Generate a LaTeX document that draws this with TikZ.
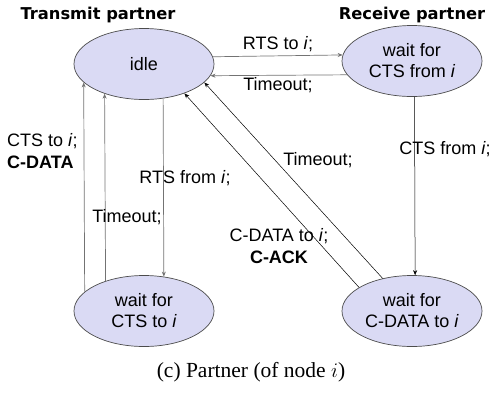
\documentclass[tikz,border=0pt]{standalone}
\usepackage{fontspec}
\setmainfont{Liberation Serif}
\setsansfont{Liberation Sans}
\newfontfamily\headfont{DejaVu Sans}
\usetikzlibrary{shapes.geometric,arrows.meta}
\begin{document}
\begin{tikzpicture}[x=1pt,y=-1pt,
  state/.style={ellipse,draw=black!70,fill={rgb,255:red,218;green,218;blue,244},line width=0.7pt,
    minimum width=140pt,minimum height=71pt,inner sep=0pt,align=center,
    font=\sffamily\fontsize{18}{21}\selectfont},
  lbl/.style={inner sep=0pt,font=\sffamily\fontsize{18}{22}\selectfont},
  head/.style={inner sep=0pt,font=\headfont\bfseries\fontsize{16.3}{18}\selectfont},
  conn/.style={draw=black!55,line width=0.7pt,-{Stealth[length=5pt,width=4pt]}},
  diag/.style={draw=black,line width=0.5pt,-{Stealth[length=5pt,width=4pt]}}]
\useasboundingbox (0,0) rectangle (496,392);
\node[state] (idle) at (144,64) {idle};
\node[state] (ctsfrom) at (412,61) {wait for\\CTS from \textit{i}};
\node[state] (ctsto) at (144,311) {wait for\\CTS to \textit{i}};
\node[state] (cdata) at (412,311) {wait for\\C-DATA to \textit{i}};
\node[head] (h1) at (98,15) {Transmit partner};
\node[head] (h2) at (412,15) {Receive partner};
% top pair
\draw[conn] (idle.6.7) -- (ctsfrom.175.9);
\draw[conn] (ctsfrom.192.2) -- (idle.350.6);
\node[lbl] (l1) at (278,44) {RTS to \textit{i};};
\node[lbl] (l2) at (278,85) {Timeout;};
% right vertical
\draw[diag] (ctsfrom.274.8) -- (cdata.85.2);
\node[lbl] (l3) at (445,149) {CTS from \textit{i};};
% diagonals
\draw[diag] (cdata.132.3) -- (idle.343.2);
\draw[diag] (cdata.156.4) -- (idle.324.3);
\node[lbl] (l4) at (318,160) {Timeout;};
\node[lbl,align=center] (l5) at (279,246) {C-DATA to \textit{i};\\\textbf{C-ACK}};
% left verticals
\draw[conn] (ctsto.162.3) -- (idle.197.7);
\draw[conn] (ctsto.142.3) -- (idle.217.7);
\draw[conn] (idle.299.4) -- (ctsto.60.6);
\node[lbl,align=left,anchor=west] (l6) at (7,151) {CTS to \textit{i};\\\textbf{C-DATA}};
\node[lbl] (l7) at (127,217) {Timeout;};
\node[lbl] (l8) at (185,178) {RTS from \textit{i};};
% caption
\node[inner sep=0pt,font=\fontsize{21.5}{24}\selectfont] (cap) at (251,372) {(c) Partner (of node $i$)};
\end{tikzpicture}
\end{document}
